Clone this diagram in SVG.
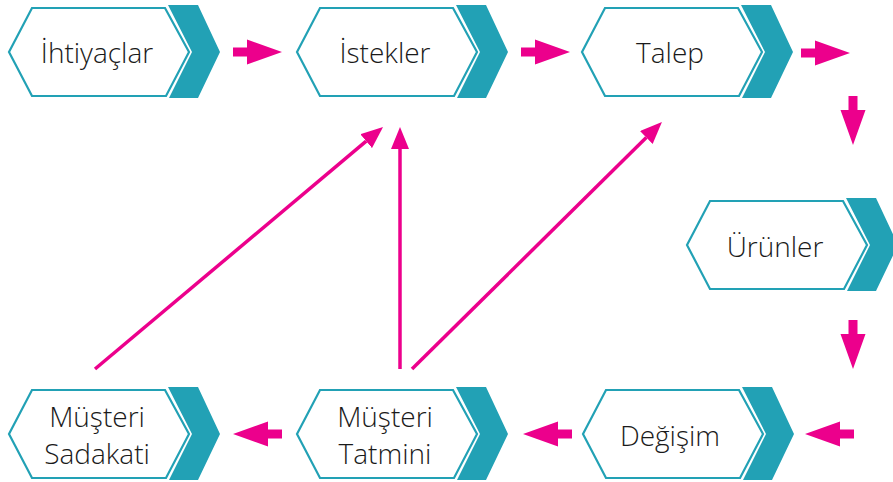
<svg xmlns="http://www.w3.org/2000/svg" xmlns:xlink="http://www.w3.org/1999/xlink" width="893" height="482" viewBox="0 0 893 482">
<style>
.hex{fill:#ffffff;stroke:#22a1b5;stroke-width:2.2;stroke-linejoin:miter}
.chev{fill:#22a1b5}
.lbl{font-family:"Open Sans","Noto Sans","Liberation Sans",sans-serif;font-size:28px;font-weight:300;fill:#1a1a1a;text-anchor:middle}
.blk{fill:#ec008c}
.ln{stroke:#ec008c;stroke-width:3.5;fill:none}
</style>
<defs>
<g id="shape">
<polygon class="hex" points="0,0 23,-44 156,-44 180,0 157,44 23,44"/>
<polygon class="chev" points="159,-47 189,-47 211,0 189,46 160,46 183,0"/>
</g>
<polygon id="blk" class="blk" points="-49,-4.5 -35,-4.5 -35,-12.5 0,0 -35,12.5 -35,4.5 -49,4.5"/>
<marker id="ah" viewBox="0 0 22 18" refX="0" refY="9" markerWidth="22" markerHeight="18" markerUnits="userSpaceOnUse" orient="auto">
<path d="M0,0 L22,9 L0,18 z" fill="#ec008c"/>
</marker>
</defs>
<rect width="893" height="482" fill="#ffffff"/>
<g id="connectors">
<use xlink:href="#blk" href="#blk" transform="translate(282,52)"/>
<use xlink:href="#blk" href="#blk" transform="translate(570,52)"/>
<use xlink:href="#blk" href="#blk" transform="translate(850,53)"/>
<use xlink:href="#blk" href="#blk" transform="translate(853,145) rotate(90)"/>
<use xlink:href="#blk" href="#blk" transform="translate(853,369) rotate(90)"/>
<use xlink:href="#blk" href="#blk" transform="translate(805,434) rotate(180)"/>
<use xlink:href="#blk" href="#blk" transform="translate(523,434) rotate(180)"/>
<use xlink:href="#blk" href="#blk" transform="translate(233,434) rotate(180)"/>
<line class="ln" x1="95" y1="369" x2="366.2" y2="141.2" marker-end="url(#ah)"/>
<line class="ln" x1="400" y1="369" x2="400" y2="149" marker-end="url(#ah)"/>
<line class="ln" x1="412" y1="369" x2="646.3" y2="137.5" marker-end="url(#ah)"/>
</g>
<g id="n-ihtiyaclar">
<use xlink:href="#shape" href="#shape" transform="translate(9,52)"/>
<text class="lbl" x="97" y="63">İhtiyaçlar</text>
</g>
<g id="n-istekler">
<use xlink:href="#shape" href="#shape" transform="translate(297,52)"/>
<text class="lbl" x="385" y="63">İstekler</text>
</g>
<g id="n-talep">
<use xlink:href="#shape" href="#shape" transform="translate(582,52)"/>
<text class="lbl" x="670" y="63">Talep</text>
</g>
<g id="n-urunler">
<use xlink:href="#shape" href="#shape" transform="translate(687,245)"/>
<text class="lbl" x="775" y="257">Ürünler</text>
</g>
<g id="n-degisim">
<use xlink:href="#shape" href="#shape" transform="translate(583,434)"/>
<text class="lbl" x="670" y="446">Değişim</text>
</g>
<g id="n-tatmin">
<use xlink:href="#shape" href="#shape" transform="translate(297,434)"/>
<text class="lbl" x="385" y="427">Müşteri</text>
<text class="lbl" x="385" y="464">Tatmini</text>
</g>
<g id="n-sadakat">
<use xlink:href="#shape" href="#shape" transform="translate(9,434)"/>
<text class="lbl" x="97" y="427">Müşteri</text>
<text class="lbl" x="97" y="464">Sadakati</text>
</g>
</svg>
